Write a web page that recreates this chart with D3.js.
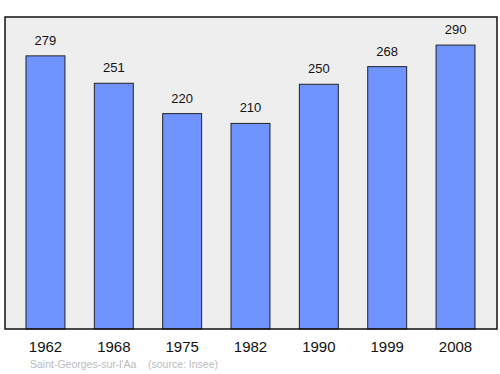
<!DOCTYPE html>
<html>
<head>
<meta charset="utf-8">
<script src="https://cdn.jsdelivr.net/npm/d3@7"></script>
<style>
  body { margin: 0; background: #fff; }
  svg { display: block; font-family: "Liberation Sans", Arial, sans-serif; }
</style>
</head>
<body>
<svg width="500" height="374"></svg>
<script>
// chart data
var years = ["1962", "1968", "1975", "1982", "1990", "1999", "2008"];
var population = [279, 251, 220, 210, 250, 268, 290];
var place = "Saint-Georges-sur-l'Aa";
var source = "(source: Insee)";

var svg = d3.select("svg");

var frame = { left: 5, top: 17, right: 497, bottom: 329 };

// x scale for the bars
var x = d3.scaleBand()
    .domain(years)
    .range([11.3, 489.7])
    .paddingInner(0.43)
    .paddingOuter(0.215);

var y = d3.scaleLinear()
    .domain([0, 318.7])
    .range([frame.bottom, frame.top]);

// plot background
svg.append("rect")
    .attr("x", frame.left)
    .attr("y", frame.top)
    .attr("width", frame.right - frame.left)
    .attr("height", frame.bottom - frame.top)
    .attr("fill", "#eeeeee")
    .attr("stroke", "none");

var data = years.map(function (d, i) { return { year: d, value: population[i] }; });

// bars
svg.selectAll(".bar")
    .data(data)
    .enter()
    .append("rect")
    .attr("class", "bar")
    .attr("x", function (d) { return x(d.year); })
    .attr("y", function (d) { return y(d.value); })
    .attr("width", x.bandwidth())
    .attr("height", function (d) { return y(0) - y(d.value); })
    .attr("fill", "#7094ff")
    .attr("stroke", "#222")
    .attr("stroke-width", 1);

// value labels
svg.selectAll(".val")
    .data(data)
    .enter()
    .append("text")
    .attr("class", "val")
    .attr("x", function (d) { return x(d.year) + x.bandwidth() / 2; })
    .attr("y", function (d) { return y(d.value) - 11; })
    .attr("text-anchor", "middle")
    .attr("font-size", 13)
    .attr("fill", "#111")
    .text(function (d) { return d.value; });

// frame border
svg.append("rect")
    .attr("x", frame.left)
    .attr("y", frame.top)
    .attr("width", frame.right - frame.left)
    .attr("height", frame.bottom - frame.top)
    .attr("fill", "none")
    .attr("stroke", "#111")
    .attr("stroke-width", 1.5);

// year labels
var xAxis = svg.append("g")
    .attr("transform", "translate(0," + frame.bottom + ")")
    .call(d3.axisBottom(x).tickSize(0).tickPadding(12));
xAxis.select(".domain").remove();
xAxis.selectAll("text")
    .attr("font-size", 15)
    .attr("font-family", "Liberation Sans, Arial, sans-serif")
    .attr("fill", "#111");

// source line
svg.append("text")
    .attr("x", 30)
    .attr("y", 368)
    .attr("font-size", 10.5)
    .attr("fill", "#bbb")
    .text(place);
svg.append("text")
    .attr("x", 148)
    .attr("y", 368)
    .attr("font-size", 10.5)
    .attr("fill", "#bbb")
    .text(source);
</script>
</body>
</html>
